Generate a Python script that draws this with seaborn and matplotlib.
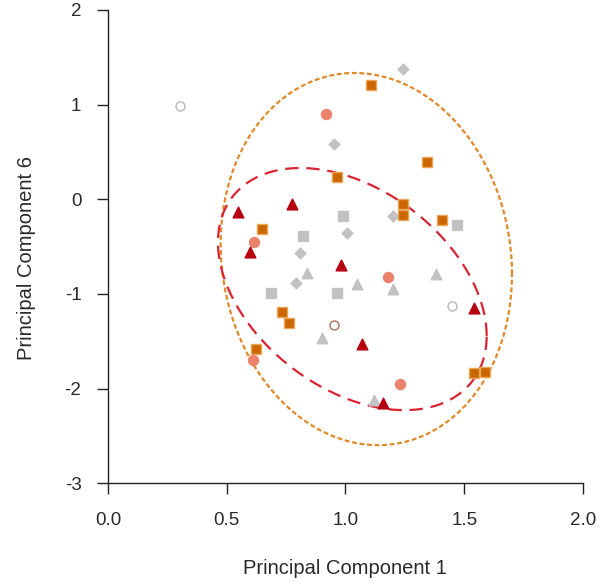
import numpy as np
import pandas as pd
import matplotlib
matplotlib.use("Agg")
import matplotlib.pyplot as plt
import seaborn as sns

# PCA scores (PC1, PC6) for each group
sq_orange_x = [1.107, 1.343, 1.242, 1.242, 1.406, 0.964, 0.648, 0.733, 0.762, 0.623, 1.541, 1.587]
sq_orange_y = [1.207, 0.393, -0.051, -0.167, -0.220, 0.235, -0.315, -1.192, -1.309, -1.584, -1.837, -1.827]

circ_salmon_x = [0.918, 0.615, 0.611, 1.179, 1.229]
circ_salmon_y = [0.901, -0.452, -1.700, -0.822, -1.953]

tri_red_x = [0.547, 0.775, 0.598, 0.981, 1.069, 1.158, 1.541]
tri_red_y = [-0.135, -0.051, -0.558, -0.696, -1.531, -2.154, -1.150]

tri_gray_x = [0.838, 1.048, 1.200, 0.901, 1.120, 1.381]
tri_gray_y = [-0.780, -0.896, -0.949, -1.467, -2.123, -0.791]

sq_gray_x = [0.989, 0.821, 0.686, 0.964, 1.469]
sq_gray_y = [-0.178, -0.389, -0.992, -0.992, -0.273]

dia_gray_x = [1.242, 0.952, 1.006, 0.808, 0.792, 1.200]
dia_gray_y = [1.376, 0.584, -0.357, -0.569, -0.886, -0.178]

open_gray_x = [0.303, 1.448]
open_gray_y = [0.985, -1.129]
open_brown_x = [0.952]
open_brown_y = [-1.330]

# Confidence ellipses: centre and covariance (PC1 var, PC6 var, covariance)
ell_inner_center = (1.029, -0.949)
ell_inner_cov = (0.320, 1.636, -0.280)
ell_outer_center = (1.088, -0.632)
ell_outer_cov = (0.376, 3.865, -0.098)

x_ticks = [0.0, 0.5, 1.0, 1.5, 2.0]
y_ticks = [-3, -2, -1, 0, 1, 2]

sns.set_style("white")
plt.rcParams["font.family"] = ["Liberation Sans", "DejaVu Sans"]

fig = plt.figure(figsize=(6.13, 5.85), dpi=100)
ax = fig.add_axes([0.176, 0.174, 0.775, 0.809])

def ellipse_points(center, cov, n=400):
    sxx, syy, sxy = cov
    L = np.linalg.cholesky(np.array([[sxx, sxy], [sxy, syy]]))
    t = np.linspace(0, 2 * np.pi, n)
    pts = L @ np.vstack([np.cos(t), np.sin(t)])
    return pts[0] + center[0], pts[1] + center[1]

ex, ey = ellipse_points(ell_outer_center, ell_outer_cov)
ax.plot(ex, ey, color="#E0892B", lw=1.6, linestyle=(0, (2.2, 1.2)), zorder=1)
ex, ey = ellipse_points(ell_inner_center, ell_inner_cov)
ax.plot(ex, ey, color="#D82432", lw=1.6, linestyle=(0, (6, 3.5)), zorder=1)

groups = [
    (sq_gray_x, sq_gray_y, "s", "#C2C2C2", "#C2C2C2", 58),
    (tri_gray_x, tri_gray_y, "^", "#C2C2C2", "#C2C2C2", 58),
    (dia_gray_x, dia_gray_y, "D", "#C2C2C2", "#C2C2C2", 30),
    (sq_orange_x, sq_orange_y, "s", "#CC6600", "#E8A857", 58),
    (circ_salmon_x, circ_salmon_y, "o", "#EA826C", "#EA826C", 52),
    (tri_red_x, tri_red_y, "^", "#B5000F", "#B5000F", 60),
    (open_gray_x, open_gray_y, "o", "white", "#B8B8B8", 42),
    (open_brown_x, open_brown_y, "o", "white", "#A8705E", 42),
]
for gx, gy, mk, fc, ec, s in groups:
    df = pd.DataFrame({"pc1": gx, "pc6": gy})
    sns.scatterplot(data=df, x="pc1", y="pc6", marker=mk, color=fc,
                    edgecolor=ec, linewidth=1.0, s=s, ax=ax, zorder=3)

ax.set_xlim(0, 2)
ax.set_ylim(-3, 2)
ax.set_xticks(x_ticks)
ax.set_xticklabels([f"{v:.1f}" for v in x_ticks])
ax.set_yticks(y_ticks)
ax.set_yticklabels([str(v) for v in y_ticks])
for side in ["top", "right"]:
    ax.spines[side].set_visible(False)
for side in ["left", "bottom"]:
    ax.spines[side].set_color("#222222")
    ax.spines[side].set_linewidth(1.0)
ax.tick_params(axis="both", direction="out", length=8, width=1.0,
               bottom=True, left=True,
               color="#222222", labelsize=13.5, labelcolor="#2a2a2a")
ax.tick_params(axis="x", pad=13)
ax.tick_params(axis="y", pad=11)
ax.set_xlabel("Principal Component 1", fontsize=14.5, color="#2a2a2a")
ax.set_ylabel("Principal Component 6", fontsize=14.5, color="#2a2a2a")
ax.xaxis.set_label_coords(0.5, -0.180)
ax.xaxis.label.set_va("center")
ax.yaxis.set_label_coords(-0.171, 0.476)
ax.yaxis.label.set_va("center")

fig.savefig("out.png", dpi=100)
